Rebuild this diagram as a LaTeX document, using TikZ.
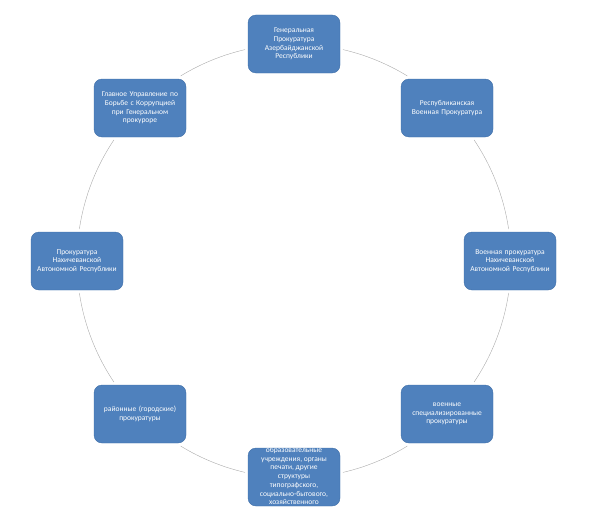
\documentclass[tikz,border=0pt]{standalone}
\usepackage{fontspec}
\setmainfont{Carlito}
\definecolor{boxblue}{HTML}{4F81BD}
\definecolor{boxedge}{HTML}{3F6FA8}
\definecolor{ringgrey}{HTML}{ABABAB}
\begin{document}
\begin{tikzpicture}[x=1pt,y=-1pt,
  cyclebox/.style={draw=boxedge, line width=0.4pt, fill=boxblue, rounded corners=8pt,
    minimum width=92pt, minimum height=58pt, text width=88pt, align=center,
    text=white, inner sep=2pt, font=\fontsize{7.5}{8.7}\selectfont},
  ring/.style={draw=ringgrey, line width=0.4pt}]
\useasboundingbox (0,0) rectangle (591,527);
\coordinate (c) at (294,261);
\node[cyclebox] (b1) at (294,44) {Генеральная\\Прокуратура\\Азербайджанской\\Республики};
\node[cyclebox] (b2) at (447,108) {Республиканская\\Военная Прокуратура};
\node[cyclebox] (b3) at (510,261) {Военная прокуратура\\Нахичеванской\\Автономной Республики};
\node[cyclebox] (b4) at (447,414) {военные\\специализированные\\прокуратуры};
\node[cyclebox] (b5) at (294,477) {};
\node[cyclebox] (b6) at (140,414) {районные (городские)\\прокуратуры};
\node[cyclebox] (b7) at (77,261) {Прокуратура\\Нахичеванской\\Автономной Республики};
\node[cyclebox] (b8) at (140,108) {Главное Управление по\\Борьбе с Коррупцией\\при Генеральном\\прокуроре};
\begin{scope}
  \clip[rounded corners=8pt] (b5.south west) rectangle (b5.north east);
  \node[anchor=south, text=white, align=center, inner sep=0pt,
        font=\fontsize{7.5}{8.7}\selectfont] (t5) at (294,505)
    {образовательные\\учреждения, органы\\печати, другие\\структуры\\типографского,\\социально-бытового,\\хозяйственного};
\end{scope}
% arcs of the cycle ring between consecutive boxes
\foreach \a/\b in {76.95/58.5, 33.9/8.48, -8.48/-33.9, -58.5/-76.95,
                   -103.05/-121.5, -146.1/-171.52, 171.52/146.1, 121.5/103.05}
  \draw[ring] ([shift={(\a:217pt)}]c) arc[start angle=\a, end angle=\b, radius=217pt];
\end{tikzpicture}
\end{document}
